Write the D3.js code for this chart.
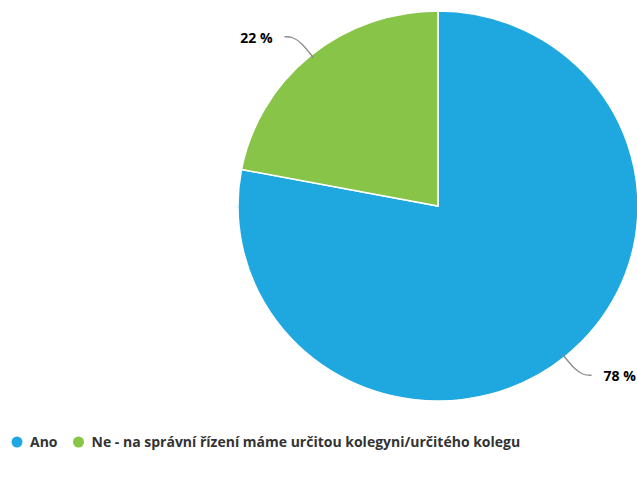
<!DOCTYPE html>
<html>
<head>
<meta charset="utf-8">
<script src="https://cdn.jsdelivr.net/npm/d3@7"></script>
<style>
  body { margin: 0; background: #fff; }
  text { font-family: "Open Sans", "DejaVu Sans", sans-serif; }
</style>
</head>
<body>
<script>
let categories = ['Ano', 'Ne - na správní řízení máme určitou kolegyni/určitého kolegu'];
let values = [78, 22];
let colors = ['#1fa8e0', '#87c447'];

let width = 637, height = 482;
let cx = 438, cy = 206, rx = 200, ry = 195;

let svg = d3.select('body')
      .append('svg')
      .attr('width', width)
      .attr('height', height);

let pie = d3.pie().sort(null).value(d => d);
let arcs = pie(values);
let arc = d3.arc().innerRadius(0).outerRadius(ry);

// the pie is slightly wider than tall in the reference
let g = svg.append('g').attr('transform', `translate(${cx},${cy}) scale(${rx / ry},1)`);

g.selectAll('path.slice')
  .data(arcs)
  .enter()
  .append('path')
  .attr('class', 'slice')
  .attr('d', arc)
  .style('fill', (d, i) => colors[i])
  .style('stroke', '#fff')
  .style('stroke-width', 1.5)
  .attr('vector-effect', 'non-scaling-stroke');

// labels with curved connectors
let labels = svg.append('g').attr('transform', `translate(${cx},${cy})`);
let lineDrawer = d3.line().curve(d3.curveBasis);
arcs.forEach((d, i) => {
  let a = (d.startAngle + d.endAngle) / 2;
  let sx = Math.sin(a), sy = -Math.cos(a);
  let side = sx < 0 ? -1 : 1;
  let vs = sy < 0 ? -1 : 1;
  let e = [sx * rx, sy * ry];
  let p0 = [e[0] - side * 3, e[1] - vs * 2];
  let p1 = [e[0] + side * 9, e[1] + vs * 13];
  let p2 = [e[0] + side * 18, e[1] + vs * 19];
  let p3 = [e[0] + side * 26, e[1] + vs * 19];
  labels.append('path')
    .attr('d', lineDrawer([p0, p1, p2, p3]))
    .style('fill', 'none')
    .style('stroke', '#8c8c8c')
    .style('stroke-width', 1.3);
  labels.append('text')
    .attr('x', p3[0] + side * 12)
    .attr('y', p3[1] + 1)
    .attr('dy', '0.35em')
    .attr('text-anchor', side < 0 ? 'end' : 'start')
    .style('font-size', '14px')
    .style('font-weight', 'bold')
    .style('fill', '#000')
    .text(values[i] + ' %');
});

// legend
let legend = svg.append('g').attr('transform', 'translate(17,442)');
let lx = 0;
categories.forEach((c, i) => {
  let item = legend.append('g').attr('transform', `translate(${lx},0)`);
  item.append('circle').attr('r', 5.5).style('fill', colors[i]);
  let t = item.append('text')
    .attr('x', 13)
    .attr('dy', '0.35em')
    .style('font-size', '14px')
    .style('font-weight', 'bold')
    .style('fill', '#333')
    .text(c);
  lx += 13 + t.node().getComputedTextLength() + 21;
});
</script>
</body>
</html>
